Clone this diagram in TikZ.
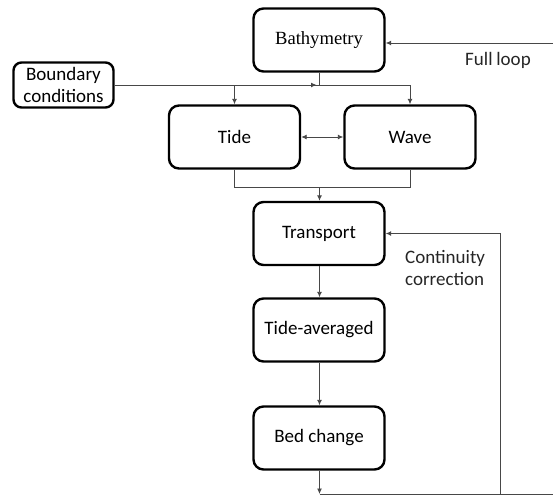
\documentclass[tikz,border=0pt]{standalone}
\usepackage{fontspec}
\setmainfont{Carlito}
\newfontfamily\seriffont{Liberation Serif}
\usetikzlibrary{arrows.meta}
\begin{document}
\begin{tikzpicture}[x=1pt,y=-1pt,
  blk/.style={draw=black, line width=2.4pt, rounded corners=10pt, fill=white,
    minimum width=131pt, minimum height=63pt, inner sep=2pt,
    font=\fontsize{19}{23}\selectfont, align=center},
  conn/.style={draw=black!72, line width=0.9pt},
  tip/.style={-{Latex[length=5.5pt,width=5pt]}},
  lbl/.style={font=\fontsize{19}{22.5}\selectfont, text=black!85, inner sep=0pt}]
  \useasboundingbox (0,0) rectangle (553,499);

  % process blocks
  \node[blk, font=\seriffont\fontsize{18.6}{22}\selectfont] (bath) at (319,40) {Bathymetry};
  \node[blk, minimum width=100pt, minimum height=45pt, rounded corners=8pt, inner sep=1pt] (bc) at (63.5,85) {Boundary\\[-1pt]conditions};
  \node[blk] (tide) at (234.5,137) {Tide};
  \node[blk] (wave) at (410,137) {Wave};
  \node[blk] (trans) at (319,233.5) {Transport};
  \node[blk] (tavg) at (319,330) {Tide-averaged};
  \node[blk] (bed) at (319,438) {Bed change};

  % junction points
  \coordinate (j) at (319.5,85);
  \coordinate (jl) at (tide.north |- j);
  \coordinate (jr) at (wave.north |- j);
  \coordinate (m) at (319.5,187);
  \coordinate (b) at (319.5,494);
  \coordinate (cr) at (500,494);
  \coordinate (bend) at (553,494);
  \coordinate (fl) at (553,43);

  % inputs to the hydrodynamic models
  \draw[conn] (bath.south -| j) -- (j);
  \draw[conn, tip] (bc.east) -- ([xshift=-3pt]j);
  \draw[conn] (jl) -- (jr);
  \draw[conn, tip] (jl) -- (tide.north);
  \draw[conn, tip] (jr) -- (wave.north);
  \draw[conn, {Latex[length=5.5pt,width=5pt]}-{Latex[length=5.5pt,width=5pt]}] (tide.east) -- (wave.west);

  % models to transport
  \draw[conn] (tide.south) -- (tide.south |- m) -- (wave.south |- m) -- (wave.south);
  \draw[conn, tip] (m) -- (trans.north -| m);
  \draw[conn, tip] (trans.south -| m) -- (tavg.north -| m);
  \draw[conn, tip] (tavg.south -| m) -- (bed.north -| m);
  \draw[conn, tip] (bed.south -| m) -- (b);

  % feedback loops
  \draw[conn] (b) -- (bend);
  \draw[conn, tip] (cr) -- (cr |- trans.east) -- (trans.east);
  \draw[conn, tip] (fl) -- (bath.east |- fl);

  % loop labels
  \node[lbl] (fltext) at (498,60) {Full\kern-0.5pt\ loop};
  \node[lbl, anchor=west, align=left] (cctext) at (405,268) {Continuity\\correction};
\end{tikzpicture}
\end{document}
